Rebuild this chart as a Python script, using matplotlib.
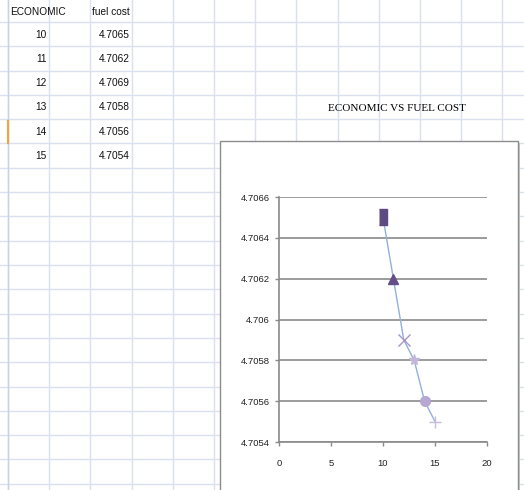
import numpy as np
import matplotlib.pyplot as plt
from matplotlib.patches import Rectangle
from matplotlib.ticker import FixedLocator, FuncFormatter

# datos de la hoja
economic = [10, 11, 12, 13, 14, 15]
fuel_cost_cells = ["4.7065", "4.7062", "4.7069", "4.7058", "4.7056", "4.7054"]
fuel_cost = [4.7065, 4.7062, 4.7059, 4.7058, 4.7056, 4.7055]
headers = ["ECONOMIC", "fuel cost"]
titulo = "ECONOMIC VS FUEL COST"

y_ticks = [4.7054, 4.7056, 4.7058, 4.706, 4.7062, 4.7064, 4.7066]
x_ticks = [0, 5, 10, 15, 20]

marcadores = [[(-0.5, -1), (0.5, -1), (0.5, 1), (-0.5, 1)], '^', 'x', '*', 'o', '+']
colores = ['#5e4a82', '#654d8a', '#a996c6', '#c4b6da', '#b7a8d3', '#c6bcdb']
tamanos = [11, 7, 8, 8, 7, 8]

cell_font = ['Liberation Sans', 'DejaVu Sans']
fs = 7.3

fig = plt.figure(figsize=(5.24, 4.90), dpi=100)

# fondo: cuadricula de la hoja en pixeles
bg = fig.add_axes([0, 0, 1, 1])
bg.set_xlim(0, 524)
bg.set_ylim(490, 0)
bg.axis('off')

col_lines = [8 + 41.2 * i for i in range(13)]
row_lines = [22 + 24.3 * i for i in range(20)]
for x in col_lines:
    bg.plot([x, x], [0, 490], color='#dae0ee', lw=1, zorder=1)
for y in row_lines:
    bg.plot([0, 524], [y, y], color='#dae0ee', lw=1, zorder=1)
bg.plot([8, 8], [0, 490], color='#c9d1e4', lw=1, zorder=1)
bg.plot([8, 8], [121, 143], color='#f4a43a', lw=1.5, zorder=2)

# encabezados y celdas
bg.text(10, 12, headers[0], fontsize=fs, family=cell_font,
        ha='left', va='center', color='#111111')
bg.text(92, 12, headers[1], fontsize=fs, family=cell_font,
        ha='left', va='center', color='#111111')
for i in range(len(economic)):
    yc = 34.5 + 24.3 * i
    bg.text(47, yc, str(economic[i]), fontsize=fs, family=cell_font,
            ha='right', va='center', color='#111111')
    bg.text(130, yc, fuel_cost_cells[i], fontsize=fs, family=cell_font,
            ha='right', va='center', color='#111111')

bg.text(397, 108, titulo, fontsize=8, family='Liberation Serif',
        ha='center', va='center', color='#000000')

# marco del grafico con sombra
bg.add_patch(Rectangle((222, 143), 298, 350, facecolor='#cccccc', edgecolor='none', zorder=3))
bg.add_patch(Rectangle((220, 141), 298, 350, facecolor='white', edgecolor='#8c8c8c',
                       lw=1, zorder=4))

# grafico
ax = fig.add_axes([279 / 524, 1 - 442 / 490, 208 / 524, 245 / 490])
ax.set_facecolor('none')
ax.set_xlim(0, 20)
ax.set_ylim(4.7054, 4.7066)
ax.yaxis.set_major_locator(FixedLocator(y_ticks))
ax.xaxis.set_major_locator(FixedLocator(x_ticks))
ax.yaxis.set_major_formatter(FuncFormatter(lambda v, p: ('%.4f' % v).rstrip('0')))
ax.grid(axis='y', color='#8a8a8a', lw=1.2)
ax.set_axisbelow(True)
for lado in ['top', 'right']:
    ax.spines[lado].set_visible(False)
for lado in ['left', 'bottom']:
    ax.spines[lado].set_color('#8a8a8a')
    ax.spines[lado].set_linewidth(1.2)
ax.tick_params(axis='both', color='#8a8a8a', length=3, width=1, labelsize=6.8, labelcolor='#222222')
ax.tick_params(axis='x', pad=9)
for lbl in ax.get_xticklabels() + ax.get_yticklabels():
    lbl.set_family(cell_font)

ax.plot(economic, fuel_cost, color='#8fb1de', lw=1, zorder=3)
for i in range(len(economic)):
    ax.plot(economic[i], fuel_cost[i], marker=marcadores[i], color=colores[i],
            markersize=tamanos[i], markeredgewidth=1, linestyle='none', zorder=4)

fig.savefig('out.png', dpi=100)
